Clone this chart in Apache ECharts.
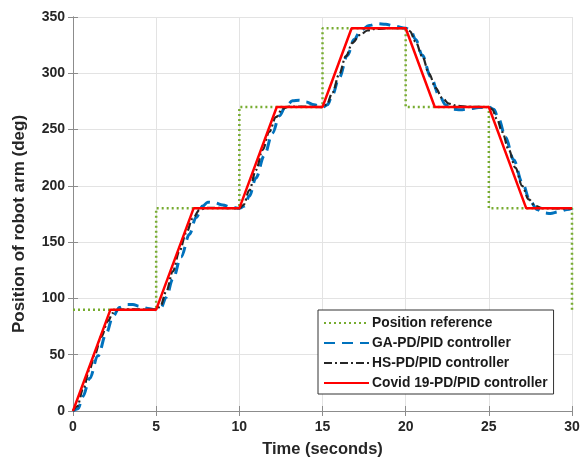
<!DOCTYPE html>
<html>
<head>
<meta charset="utf-8">
<script src="https://cdn.jsdelivr.net/npm/echarts@6/dist/echarts.min.js"></script>
<style>
  html, body { margin: 0; padding: 0; background: #fff; }
  #chart { width: 582px; height: 457px; }
</style>
</head>
<body>
<div id="chart"></div>
<script>
// Step reference: each value holds from its time until the next one
const refTime  = [0, 5, 10, 15, 20, 25, 30];
const refValue = [90, 180, 270, 340, 270, 180, 90];

// GA-PD/PID controller response
const gaTime = [0, 0.3, 0.6, 1.0, 1.5, 2.0, 2.4, 2.8, 3.2, 3.6, 4.0, 4.5, 5.0,
  5.3, 5.6, 6.0, 6.5, 7.0, 7.4, 7.8, 8.1, 8.5, 9.0, 9.5, 10,
  10.3, 10.6, 11.0, 11.5, 12.0, 12.4, 12.8, 13.2, 13.6, 14.0, 14.5, 15,
  15.3, 15.6, 16.0, 16.5, 16.9, 17.3, 17.8, 18.3, 18.8, 19.3, 20,
  20.3, 20.6, 21.0, 21.5, 22.0, 22.4, 22.8, 23.3, 23.8, 24.4, 25,
  25.3, 25.6, 26.0, 26.5, 27.0, 27.5, 27.9, 28.3, 28.7, 29.2, 29.7, 30];
const gaValue = [0, 2, 13, 29, 49, 69, 84, 92, 94.5, 94.5, 93, 91, 90,
  92, 101, 117, 137, 157, 172, 182, 185.5, 185, 183, 181, 180,
  182, 191, 207, 227, 247, 262, 271, 275.5, 276, 274.5, 272, 270,
  272, 281, 296, 316, 330, 338, 342.5, 344, 343.5, 342, 340,
  338, 330, 316, 297, 281, 272, 268, 267.5, 268.5, 269.5, 270,
  268, 259, 243, 223, 203, 186, 179, 176, 175.5, 177, 179, 180];

// HS-PD/PID controller response
const hsTime = [0, 0.25, 0.6, 1.0, 1.3, 1.7, 2.1, 2.4, 2.7, 3.1, 4.0, 5.0,
  5.25, 5.6, 6.0, 6.4, 6.8, 7.2, 7.6, 8.0, 8.5, 10,
  10.25, 10.6, 11.0, 11.4, 11.8, 12.2, 12.6, 13.0, 13.5, 15,
  15.25, 15.6, 16.0, 16.4, 16.8, 17.25, 17.7, 18.2, 19.0, 20,
  20.25, 20.6, 21.0, 21.4, 21.8, 22.2, 22.6, 23.1, 23.8, 25,
  25.2, 25.5, 25.8, 26.2, 26.6, 27.0, 27.4, 27.8, 28.2, 29.0, 30];
const hsValue = [0, 4, 19, 37, 50, 66, 80, 87, 89.8, 90.3, 90.2, 90,
  93, 106, 124, 142, 158, 171, 178.5, 180.5, 180.5, 180,
  183, 196, 214, 232, 248, 261, 268.5, 270.5, 270.5, 270,
  272, 283, 299, 315, 327, 334, 338, 339.5, 340, 340,
  337.5, 328, 315, 300, 287, 278, 273, 271, 270.3, 270,
  268, 259, 248, 232, 216, 200, 188, 182, 180.3, 180, 180];

// Covid 19-PD/PID controller response
const covidTime  = [0, 2.25, 5, 7.25, 10, 12.25, 15, 16.75, 20, 21.75, 25, 27.25, 30];
const covidValue = [0, 90, 90, 180, 180, 270, 270, 340, 340, 270, 270, 180, 180];

// Axis ticks
const xTicks = { min: 0, max: 30, interval: 5 };
const yTicks = { min: 0, max: 350, interval: 50 };

const zip = (a, b) => a.map((t, i) => [t, b[i]]);

const FONT = 'Liberation Sans, Arial, sans-serif';
const boxColor = '#8c8c8c';
const labelColor = '#262626';

const tickAxis = {
  axisLine: { show: true, lineStyle: { color: boxColor, width: 1 } },
  axisTick: { show: true, inside: true, length: 5, lineStyle: { color: boxColor } },
  splitLine: { show: false },
  axisLabel: { show: false }
};

const chart = echarts.init(document.getElementById('chart'), null, { renderer: 'canvas' });
chart.setOption({
  animation: false,
  backgroundColor: '#ffffff',
  grid: { left: 73, right: 10, top: 17, bottom: 46, show: false, outerBoundsMode: 'none' },
  xAxis: [{
    type: 'value', min: xTicks.min, max: xTicks.max, interval: xTicks.interval,
    name: 'Time (seconds)', nameLocation: 'middle', nameGap: 30,
    nameTextStyle: { fontFamily: FONT, fontWeight: 'bold', fontSize: 16.5, color: labelColor },
    axisLine: { show: true, lineStyle: { color: boxColor, width: 1 } },
    axisTick: { show: true, inside: true, length: 5, lineStyle: { color: boxColor } },
    axisLabel: { fontFamily: FONT, fontWeight: 'bold', fontSize: 14, color: labelColor, margin: 9 },
    splitLine: { show: true, lineStyle: { color: '#e3e3e3', width: 1 } }
  }, Object.assign({
    type: 'value', position: 'top', min: xTicks.min, max: xTicks.max, interval: xTicks.interval
  }, tickAxis)],
  yAxis: [{
    type: 'value', min: yTicks.min, max: yTicks.max, interval: yTicks.interval,
    name: 'Position of robot arm (deg)', nameLocation: 'middle', nameGap: 45,
    nameTextStyle: { fontFamily: FONT, fontWeight: 'bold', fontSize: 17, color: labelColor,
      padding: [0, 20, 0, 0] },
    axisLine: { show: true, lineStyle: { color: boxColor, width: 1 } },
    axisTick: { show: true, inside: true, length: 5, lineStyle: { color: boxColor } },
    axisLabel: { fontFamily: FONT, fontWeight: 'bold', fontSize: 14, color: labelColor, margin: 8 },
    splitLine: { show: true, lineStyle: { color: '#e3e3e3', width: 1 } }
  }, Object.assign({
    type: 'value', position: 'right', min: yTicks.min, max: yTicks.max, interval: yTicks.interval
  }, tickAxis)],
  legend: {
    orient: 'vertical',
    left: 318, top: 310,
    padding: [6, 6, 4, 5],
    itemWidth: 45, itemHeight: 10, itemGap: 6,
    backgroundColor: '#ffffff',
    borderColor: '#333333', borderWidth: 1,
    itemStyle: { opacity: 0 },
    textStyle: { fontFamily: FONT, fontWeight: 'bold', fontSize: 13.8, color: '#1a1a1a', padding: [0, 0, 0, -2] },
    data: ['Position reference', 'GA-PD/PID controller', 'HS-PD/PID controller', 'Covid 19-PD/PID controller']
  },
  series: [
    {
      name: 'Position reference', type: 'line', step: 'end',
      data: zip(refTime, refValue), symbol: 'none', z: 2,
      lineStyle: { color: '#77AC30', width: 2.5, type: [2, 3] },
      itemStyle: { color: '#77AC30' }
    },
    {
      name: 'GA-PD/PID controller', type: 'line', smooth: 0.35, smoothMonotone: 'x',
      data: zip(gaTime, gaValue), symbol: 'none', z: 3,
      lineStyle: { color: '#0072BD', width: 3, type: [11, 7] },
      itemStyle: { color: '#0072BD' }
    },
    {
      name: 'HS-PD/PID controller', type: 'line', smooth: 0.35, smoothMonotone: 'x',
      data: zip(hsTime, hsValue), symbol: 'none', z: 4,
      lineStyle: { color: '#262626', width: 2.2, type: [8, 3, 2, 3] },
      itemStyle: { color: '#262626' }
    },
    {
      name: 'Covid 19-PD/PID controller', type: 'line',
      data: zip(covidTime, covidValue), symbol: 'none', z: 5,
      lineStyle: { color: '#FF0000', width: 2.5 },
      itemStyle: { color: '#FF0000' }
    }
  ]
});
</script>
</body>
</html>
